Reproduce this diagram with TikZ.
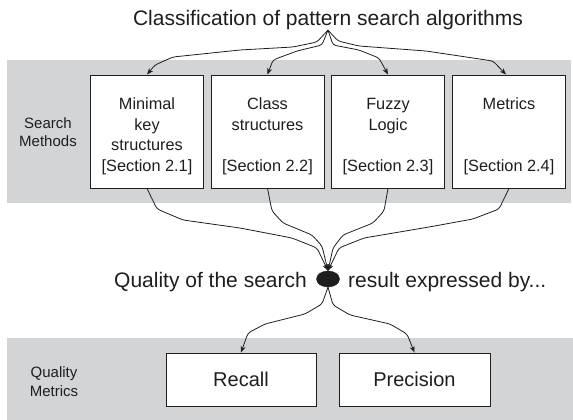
\documentclass[tikz,border=0pt]{standalone}
\usepackage{fontspec}
\setmainfont{Liberation Sans}
\usetikzlibrary{arrows.meta,shapes.geometric}
\definecolor{ink}{HTML}{1E1E1E}
\definecolor{band}{HTML}{D3D4D6}
% extra room above the first line of a method box
\newcommand{\firstline}{\rule{0pt}{21pt}}
\begin{document}
\begin{tikzpicture}[x=1pt,y=-1pt,
  every node/.style={text=ink},
  method/.style={draw=ink,line width=0.9pt,fill=white,minimum width=113pt,
    minimum height=113pt,inner sep=0pt,align=center,
    font=\fontsize{16.3}{20.5}\selectfont},
  measure/.style={draw=ink,line width=0.9pt,fill=white,minimum height=53pt,
    inner sep=0pt,font=\fontsize{20}{24}\selectfont},
  sidelabel/.style={align=center,inner sep=0pt,font=\fontsize{15}{18.5}\selectfont},
  headline/.style={inner sep=0pt,font=\fontsize{21}{25}\selectfont},
  conn/.style={draw=ink,line width=0.8pt,rounded corners=3pt,
    -{Stealth[length=6.5pt,width=5pt]}}]
\useasboundingbox (0,0) rectangle (573,420);

% background bands
\fill[band] (7,60) rectangle (571,203);
\fill[band] (7,338) rectangle (573,420);

% title
\node[headline,anchor=base] (title) at (328,25.5) {Classification of pattern search algorithms};

% search methods
\node[sidelabel] (smlabel) at (48,132) {Search\\Methods};
\node[method] (b1) at (147,131.5) {\firstline Minimal\\key\\structures\\{[Section 2.1]}};
\node[method] (b2) at (267.5,131.5) {\firstline Class\\structures\\\mbox{}\\{[Section 2.2]}};
\node[method] (b3) at (388,131.5) {\firstline Fuzzy\\Logic\\\mbox{}\\{[Section 2.3]}};
\node[method] (b4) at (509,131.5) {\firstline Metrics\\\mbox{}\\\mbox{}\\{[Section 2.4]}};

% junction
\node[ellipse,fill=ink,draw=ink,minimum width=23pt,minimum height=16pt,inner sep=0pt] (dot) at (328,279) {};
\node[headline,anchor=base east] (qleft) at (307,287) {Quality of the search};
\node[headline,anchor=base west] (qright) at (348,287) {result expressed by...};

% quality metrics
\node[sidelabel] (qmlabel) at (54,381.5) {Quality\\Metrics};
\node[measure,minimum width=150pt] (recall) at (241,379.5) {Recall};
\node[measure,minimum width=151pt] (precision) at (414.5,379.5) {Precision};

% fan-out from the title
\draw[conn] (title.south) -- (317,42) -- (293,47) -- (240,50) -- (173,57) -- (155,65) -- (b1.north);
\draw[conn] (title.south) -- (322,45) -- (297,51) -- (273,60) -- (b2.north);
\draw[conn] (title.south) -- (333,45) -- (359,50) -- (379,58) -- (b3.north);
\draw[conn] (title.south) -- (338,41) -- (359,46) -- (426,51) -- (493,61) -- ([xshift=-3pt]b4.north);

% fan-in to the junction
\draw[conn] (b1.south) -- (157,209) -- (183,220) -- (240,228) -- (292,238) -- (317,248) -- (dot.north);
\draw[conn] (b2.south) -- (272,211) -- (283,223) -- (312,235) -- (322,246) -- (dot.north);
\draw[conn] (b3.south) -- (384,211) -- (373,223) -- (343,235) -- (333,248) -- (dot.north);
\draw[conn] (b4.south) -- (499,209) -- (473,219) -- (429,227) -- (364,238) -- (339,248) -- (dot.north);

% fan-out to the quality metrics
\draw[conn] (dot.south) -- (322,304) -- (305,314) -- (265,324) -- (248,333) -- (recall.north);
\draw[conn] (dot.south) -- (333,305) -- (350,315) -- (390,324) -- (407,334) -- (precision.north);
\end{tikzpicture}
\end{document}
